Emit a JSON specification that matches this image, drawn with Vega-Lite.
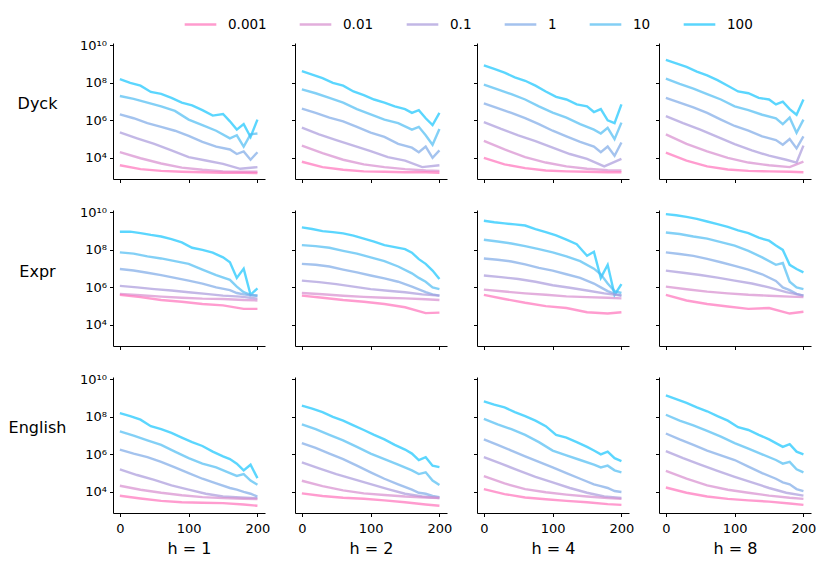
{
  "$schema": "https://vega.github.io/schema/vega-lite/v6.json",
  "background": "white",
  "padding": {"left": 8, "top": 7, "right": 5, "bottom": 5},
  "data": {"values": [
    {"p":"Dyck","h":1,"s":100,"x":0,"y":1.6e8},{"p":"Dyck","h":1,"s":100,"x":15,"y":1.0e8},{"p":"Dyck","h":1,"s":100,"x":30,"y":7.1e7},{"p":"Dyck","h":1,"s":100,"x":45,"y":3.3e7},{"p":"Dyck","h":1,"s":100,"x":60,"y":2.6e7},{"p":"Dyck","h":1,"s":100,"x":75,"y":1.6e7},{"p":"Dyck","h":1,"s":100,"x":90,"y":8.9e6},{"p":"Dyck","h":1,"s":100,"x":105,"y":6.3e6},{"p":"Dyck","h":1,"s":100,"x":120,"y":3.5e6},{"p":"Dyck","h":1,"s":100,"x":135,"y":1.8e6},{"p":"Dyck","h":1,"s":100,"x":150,"y":2.2e6},{"p":"Dyck","h":1,"s":100,"x":160,"y":8.9e5},{"p":"Dyck","h":1,"s":100,"x":170,"y":3.2e5},{"p":"Dyck","h":1,"s":100,"x":180,"y":6.3e5},{"p":"Dyck","h":1,"s":100,"x":190,"y":1.3e5},{"p":"Dyck","h":1,"s":100,"x":200,"y":1.1e6},
    {"p":"Dyck","h":1,"s":10,"x":0,"y":2.0e7},{"p":"Dyck","h":1,"s":10,"x":20,"y":1.4e7},{"p":"Dyck","h":1,"s":10,"x":40,"y":8.9e6},{"p":"Dyck","h":1,"s":10,"x":60,"y":5.6e6},{"p":"Dyck","h":1,"s":10,"x":80,"y":3.2e6},{"p":"Dyck","h":1,"s":10,"x":100,"y":1.1e6},{"p":"Dyck","h":1,"s":10,"x":120,"y":5.6e5},{"p":"Dyck","h":1,"s":10,"x":140,"y":2.8e5},{"p":"Dyck","h":1,"s":10,"x":160,"y":1.1e5},{"p":"Dyck","h":1,"s":10,"x":170,"y":1.6e5},{"p":"Dyck","h":1,"s":10,"x":180,"y":4.0e4},{"p":"Dyck","h":1,"s":10,"x":190,"y":1.8e5},{"p":"Dyck","h":1,"s":10,"x":200,"y":2.0e5},
    {"p":"Dyck","h":1,"s":1,"x":0,"y":2.1e6},{"p":"Dyck","h":1,"s":1,"x":20,"y":1.3e6},{"p":"Dyck","h":1,"s":1,"x":40,"y":7.1e5},{"p":"Dyck","h":1,"s":1,"x":60,"y":4.5e5},{"p":"Dyck","h":1,"s":1,"x":80,"y":2.8e5},{"p":"Dyck","h":1,"s":1,"x":100,"y":1.5e5},{"p":"Dyck","h":1,"s":1,"x":120,"y":7.1e4},{"p":"Dyck","h":1,"s":1,"x":140,"y":4.0e4},{"p":"Dyck","h":1,"s":1,"x":160,"y":2.8e4},{"p":"Dyck","h":1,"s":1,"x":170,"y":1.6e4},{"p":"Dyck","h":1,"s":1,"x":180,"y":2.2e4},{"p":"Dyck","h":1,"s":1,"x":190,"y":7.9e3},{"p":"Dyck","h":1,"s":1,"x":200,"y":2.0e4},
    {"p":"Dyck","h":1,"s":0.1,"x":0,"y":2.3e5},{"p":"Dyck","h":1,"s":0.1,"x":25,"y":1.1e5},{"p":"Dyck","h":1,"s":0.1,"x":50,"y":5.5e4},{"p":"Dyck","h":1,"s":0.1,"x":75,"y":2.5e4},{"p":"Dyck","h":1,"s":0.1,"x":100,"y":1.1e4},{"p":"Dyck","h":1,"s":0.1,"x":125,"y":7.2e3},{"p":"Dyck","h":1,"s":0.1,"x":150,"y":4.8e3},{"p":"Dyck","h":1,"s":0.1,"x":175,"y":2.6e3},{"p":"Dyck","h":1,"s":0.1,"x":200,"y":3.2e3},
    {"p":"Dyck","h":1,"s":0.01,"x":0,"y":2.0e4},{"p":"Dyck","h":1,"s":0.01,"x":30,"y":9.5e3},{"p":"Dyck","h":1,"s":0.01,"x":60,"y":5.0e3},{"p":"Dyck","h":1,"s":0.01,"x":90,"y":3.0e3},{"p":"Dyck","h":1,"s":0.01,"x":120,"y":2.3e3},{"p":"Dyck","h":1,"s":0.01,"x":150,"y":1.9e3},{"p":"Dyck","h":1,"s":0.01,"x":180,"y":1.8e3},{"p":"Dyck","h":1,"s":0.01,"x":200,"y":1.8e3},
    {"p":"Dyck","h":1,"s":0.001,"x":0,"y":4.0e3},{"p":"Dyck","h":1,"s":0.001,"x":30,"y":2.5e3},{"p":"Dyck","h":1,"s":0.001,"x":60,"y":2.0e3},{"p":"Dyck","h":1,"s":0.001,"x":90,"y":1.8e3},{"p":"Dyck","h":1,"s":0.001,"x":120,"y":1.7e3},{"p":"Dyck","h":1,"s":0.001,"x":150,"y":1.6e3},{"p":"Dyck","h":1,"s":0.001,"x":180,"y":1.6e3},{"p":"Dyck","h":1,"s":0.001,"x":200,"y":1.55e3},

    {"p":"Dyck","h":2,"s":100,"x":0,"y":4.2e8},{"p":"Dyck","h":2,"s":100,"x":15,"y":2.8e8},{"p":"Dyck","h":2,"s":100,"x":30,"y":1.8e8},{"p":"Dyck","h":2,"s":100,"x":45,"y":1.0e8},{"p":"Dyck","h":2,"s":100,"x":60,"y":7.1e7},{"p":"Dyck","h":2,"s":100,"x":75,"y":3.5e7},{"p":"Dyck","h":2,"s":100,"x":90,"y":2.2e7},{"p":"Dyck","h":2,"s":100,"x":105,"y":1.3e7},{"p":"Dyck","h":2,"s":100,"x":120,"y":8.9e6},{"p":"Dyck","h":2,"s":100,"x":135,"y":5.6e6},{"p":"Dyck","h":2,"s":100,"x":150,"y":4.0e6},{"p":"Dyck","h":2,"s":100,"x":160,"y":2.5e6},{"p":"Dyck","h":2,"s":100,"x":170,"y":3.5e6},{"p":"Dyck","h":2,"s":100,"x":180,"y":1.3e6},{"p":"Dyck","h":2,"s":100,"x":190,"y":5.6e5},{"p":"Dyck","h":2,"s":100,"x":200,"y":2.5e6},
    {"p":"Dyck","h":2,"s":10,"x":0,"y":4.5e7},{"p":"Dyck","h":2,"s":10,"x":20,"y":2.8e7},{"p":"Dyck","h":2,"s":10,"x":40,"y":1.6e7},{"p":"Dyck","h":2,"s":10,"x":60,"y":8.9e6},{"p":"Dyck","h":2,"s":10,"x":80,"y":4.0e6},{"p":"Dyck","h":2,"s":10,"x":100,"y":2.1e6},{"p":"Dyck","h":2,"s":10,"x":120,"y":1.1e6},{"p":"Dyck","h":2,"s":10,"x":140,"y":7.1e5},{"p":"Dyck","h":2,"s":10,"x":160,"y":3.2e5},{"p":"Dyck","h":2,"s":10,"x":170,"y":4.5e5},{"p":"Dyck","h":2,"s":10,"x":180,"y":1.6e5},{"p":"Dyck","h":2,"s":10,"x":190,"y":5.0e4},{"p":"Dyck","h":2,"s":10,"x":200,"y":3.5e5},
    {"p":"Dyck","h":2,"s":1,"x":0,"y":4.2e6},{"p":"Dyck","h":2,"s":1,"x":20,"y":2.5e6},{"p":"Dyck","h":2,"s":1,"x":40,"y":1.4e6},{"p":"Dyck","h":2,"s":1,"x":60,"y":8.9e5},{"p":"Dyck","h":2,"s":1,"x":80,"y":4.5e5},{"p":"Dyck","h":2,"s":1,"x":100,"y":2.2e5},{"p":"Dyck","h":2,"s":1,"x":120,"y":1.3e5},{"p":"Dyck","h":2,"s":1,"x":140,"y":5.6e4},{"p":"Dyck","h":2,"s":1,"x":160,"y":3.5e4},{"p":"Dyck","h":2,"s":1,"x":170,"y":2.0e4},{"p":"Dyck","h":2,"s":1,"x":180,"y":4.0e4},{"p":"Dyck","h":2,"s":1,"x":190,"y":1.0e4},{"p":"Dyck","h":2,"s":1,"x":200,"y":2.5e4},
    {"p":"Dyck","h":2,"s":0.1,"x":0,"y":4.1e5},{"p":"Dyck","h":2,"s":0.1,"x":25,"y":1.8e5},{"p":"Dyck","h":2,"s":0.1,"x":50,"y":8.9e4},{"p":"Dyck","h":2,"s":0.1,"x":75,"y":4.5e4},{"p":"Dyck","h":2,"s":0.1,"x":100,"y":2.3e4},{"p":"Dyck","h":2,"s":0.1,"x":125,"y":1.1e4},{"p":"Dyck","h":2,"s":0.1,"x":150,"y":7.1e3},{"p":"Dyck","h":2,"s":0.1,"x":175,"y":3.2e3},{"p":"Dyck","h":2,"s":0.1,"x":200,"y":4.0e3},
    {"p":"Dyck","h":2,"s":0.01,"x":0,"y":4.5e4},{"p":"Dyck","h":2,"s":0.01,"x":30,"y":1.8e4},{"p":"Dyck","h":2,"s":0.01,"x":60,"y":7.9e3},{"p":"Dyck","h":2,"s":0.01,"x":90,"y":4.5e3},{"p":"Dyck","h":2,"s":0.01,"x":120,"y":3.2e3},{"p":"Dyck","h":2,"s":0.01,"x":150,"y":2.5e3},{"p":"Dyck","h":2,"s":0.01,"x":180,"y":2.1e3},{"p":"Dyck","h":2,"s":0.01,"x":200,"y":2.0e3},
    {"p":"Dyck","h":2,"s":0.001,"x":0,"y":6.2e3},{"p":"Dyck","h":2,"s":0.001,"x":30,"y":3.2e3},{"p":"Dyck","h":2,"s":0.001,"x":60,"y":2.3e3},{"p":"Dyck","h":2,"s":0.001,"x":90,"y":1.9e3},{"p":"Dyck","h":2,"s":0.001,"x":120,"y":1.8e3},{"p":"Dyck","h":2,"s":0.001,"x":150,"y":1.7e3},{"p":"Dyck","h":2,"s":0.001,"x":180,"y":1.7e3},{"p":"Dyck","h":2,"s":0.001,"x":200,"y":1.6e3},

    {"p":"Dyck","h":4,"s":100,"x":0,"y":8.7e8},{"p":"Dyck","h":4,"s":100,"x":15,"y":5.6e8},{"p":"Dyck","h":4,"s":100,"x":30,"y":3.5e8},{"p":"Dyck","h":4,"s":100,"x":45,"y":2.0e8},{"p":"Dyck","h":4,"s":100,"x":60,"y":1.3e8},{"p":"Dyck","h":4,"s":100,"x":75,"y":7.1e7},{"p":"Dyck","h":4,"s":100,"x":90,"y":3.5e7},{"p":"Dyck","h":4,"s":100,"x":105,"y":1.8e7},{"p":"Dyck","h":4,"s":100,"x":120,"y":1.3e7},{"p":"Dyck","h":4,"s":100,"x":135,"y":7.1e6},{"p":"Dyck","h":4,"s":100,"x":150,"y":5.6e6},{"p":"Dyck","h":4,"s":100,"x":160,"y":2.8e6},{"p":"Dyck","h":4,"s":100,"x":170,"y":4.0e6},{"p":"Dyck","h":4,"s":100,"x":180,"y":1.0e6},{"p":"Dyck","h":4,"s":100,"x":190,"y":7.1e5},{"p":"Dyck","h":4,"s":100,"x":200,"y":7.1e6},
    {"p":"Dyck","h":4,"s":10,"x":0,"y":8.1e7},{"p":"Dyck","h":4,"s":10,"x":20,"y":4.5e7},{"p":"Dyck","h":4,"s":10,"x":40,"y":2.5e7},{"p":"Dyck","h":4,"s":10,"x":60,"y":1.3e7},{"p":"Dyck","h":4,"s":10,"x":80,"y":5.6e6},{"p":"Dyck","h":4,"s":10,"x":100,"y":2.6e6},{"p":"Dyck","h":4,"s":10,"x":120,"y":1.4e6},{"p":"Dyck","h":4,"s":10,"x":140,"y":6.3e5},{"p":"Dyck","h":4,"s":10,"x":160,"y":3.2e5},{"p":"Dyck","h":4,"s":10,"x":170,"y":2.0e5},{"p":"Dyck","h":4,"s":10,"x":180,"y":4.0e5},{"p":"Dyck","h":4,"s":10,"x":190,"y":1.0e5},{"p":"Dyck","h":4,"s":10,"x":200,"y":7.6e5},
    {"p":"Dyck","h":4,"s":1,"x":0,"y":8.1e6},{"p":"Dyck","h":4,"s":1,"x":20,"y":4.5e6},{"p":"Dyck","h":4,"s":1,"x":40,"y":2.5e6},{"p":"Dyck","h":4,"s":1,"x":60,"y":1.3e6},{"p":"Dyck","h":4,"s":1,"x":80,"y":6.3e5},{"p":"Dyck","h":4,"s":1,"x":100,"y":2.8e5},{"p":"Dyck","h":4,"s":1,"x":120,"y":1.4e5},{"p":"Dyck","h":4,"s":1,"x":140,"y":7.1e4},{"p":"Dyck","h":4,"s":1,"x":160,"y":4.0e4},{"p":"Dyck","h":4,"s":1,"x":170,"y":2.0e4},{"p":"Dyck","h":4,"s":1,"x":180,"y":4.0e4},{"p":"Dyck","h":4,"s":1,"x":190,"y":1.3e4},{"p":"Dyck","h":4,"s":1,"x":200,"y":6.6e4},
    {"p":"Dyck","h":4,"s":0.1,"x":0,"y":8.1e5},{"p":"Dyck","h":4,"s":0.1,"x":25,"y":3.5e5},{"p":"Dyck","h":4,"s":0.1,"x":50,"y":1.6e5},{"p":"Dyck","h":4,"s":0.1,"x":75,"y":7.9e4},{"p":"Dyck","h":4,"s":0.1,"x":100,"y":3.5e4},{"p":"Dyck","h":4,"s":0.1,"x":125,"y":1.6e4},{"p":"Dyck","h":4,"s":0.1,"x":150,"y":8.9e3},{"p":"Dyck","h":4,"s":0.1,"x":175,"y":3.5e3},{"p":"Dyck","h":4,"s":0.1,"x":200,"y":8.9e3},
    {"p":"Dyck","h":4,"s":0.01,"x":0,"y":8.1e4},{"p":"Dyck","h":4,"s":0.01,"x":30,"y":2.8e4},{"p":"Dyck","h":4,"s":0.01,"x":60,"y":1.1e4},{"p":"Dyck","h":4,"s":0.01,"x":90,"y":5.6e3},{"p":"Dyck","h":4,"s":0.01,"x":120,"y":3.5e3},{"p":"Dyck","h":4,"s":0.01,"x":150,"y":2.6e3},{"p":"Dyck","h":4,"s":0.01,"x":180,"y":2.2e3},{"p":"Dyck","h":4,"s":0.01,"x":200,"y":2.1e3},
    {"p":"Dyck","h":4,"s":0.001,"x":0,"y":1.0e4},{"p":"Dyck","h":4,"s":0.001,"x":30,"y":4.5e3},{"p":"Dyck","h":4,"s":0.001,"x":60,"y":2.8e3},{"p":"Dyck","h":4,"s":0.001,"x":90,"y":2.1e3},{"p":"Dyck","h":4,"s":0.001,"x":120,"y":1.9e3},{"p":"Dyck","h":4,"s":0.001,"x":150,"y":1.8e3},{"p":"Dyck","h":4,"s":0.001,"x":180,"y":1.7e3},{"p":"Dyck","h":4,"s":0.001,"x":200,"y":1.7e3},

    {"p":"Dyck","h":8,"s":100,"x":0,"y":1.7e9},{"p":"Dyck","h":8,"s":100,"x":15,"y":1.1e9},{"p":"Dyck","h":8,"s":100,"x":30,"y":7.1e8},{"p":"Dyck","h":8,"s":100,"x":45,"y":4.0e8},{"p":"Dyck","h":8,"s":100,"x":60,"y":2.5e8},{"p":"Dyck","h":8,"s":100,"x":75,"y":1.4e8},{"p":"Dyck","h":8,"s":100,"x":90,"y":7.1e7},{"p":"Dyck","h":8,"s":100,"x":105,"y":3.5e7},{"p":"Dyck","h":8,"s":100,"x":120,"y":2.8e7},{"p":"Dyck","h":8,"s":100,"x":135,"y":1.6e7},{"p":"Dyck","h":8,"s":100,"x":150,"y":1.3e7},{"p":"Dyck","h":8,"s":100,"x":160,"y":7.1e6},{"p":"Dyck","h":8,"s":100,"x":170,"y":1.0e7},{"p":"Dyck","h":8,"s":100,"x":180,"y":4.0e6},{"p":"Dyck","h":8,"s":100,"x":190,"y":2.0e6},{"p":"Dyck","h":8,"s":100,"x":200,"y":1.3e7},
    {"p":"Dyck","h":8,"s":10,"x":0,"y":1.7e8},{"p":"Dyck","h":8,"s":10,"x":20,"y":8.9e7},{"p":"Dyck","h":8,"s":10,"x":40,"y":5.0e7},{"p":"Dyck","h":8,"s":10,"x":60,"y":2.5e7},{"p":"Dyck","h":8,"s":10,"x":80,"y":1.3e7},{"p":"Dyck","h":8,"s":10,"x":100,"y":5.6e6},{"p":"Dyck","h":8,"s":10,"x":120,"y":3.5e6},{"p":"Dyck","h":8,"s":10,"x":140,"y":2.0e6},{"p":"Dyck","h":8,"s":10,"x":160,"y":1.3e6},{"p":"Dyck","h":8,"s":10,"x":170,"y":6.3e5},{"p":"Dyck","h":8,"s":10,"x":180,"y":1.4e6},{"p":"Dyck","h":8,"s":10,"x":190,"y":2.2e5},{"p":"Dyck","h":8,"s":10,"x":200,"y":1.1e6},
    {"p":"Dyck","h":8,"s":1,"x":0,"y":1.6e7},{"p":"Dyck","h":8,"s":1,"x":20,"y":8.9e6},{"p":"Dyck","h":8,"s":1,"x":40,"y":5.0e6},{"p":"Dyck","h":8,"s":1,"x":60,"y":2.5e6},{"p":"Dyck","h":8,"s":1,"x":80,"y":1.1e6},{"p":"Dyck","h":8,"s":1,"x":100,"y":5.0e5},{"p":"Dyck","h":8,"s":1,"x":120,"y":2.8e5},{"p":"Dyck","h":8,"s":1,"x":140,"y":1.4e5},{"p":"Dyck","h":8,"s":1,"x":160,"y":8.9e4},{"p":"Dyck","h":8,"s":1,"x":170,"y":5.0e4},{"p":"Dyck","h":8,"s":1,"x":180,"y":1.0e5},{"p":"Dyck","h":8,"s":1,"x":190,"y":3.2e4},{"p":"Dyck","h":8,"s":1,"x":200,"y":1.4e5},
    {"p":"Dyck","h":8,"s":0.1,"x":0,"y":1.7e6},{"p":"Dyck","h":8,"s":0.1,"x":25,"y":7.1e5},{"p":"Dyck","h":8,"s":0.1,"x":50,"y":3.2e5},{"p":"Dyck","h":8,"s":0.1,"x":75,"y":1.3e5},{"p":"Dyck","h":8,"s":0.1,"x":100,"y":5.4e4},{"p":"Dyck","h":8,"s":0.1,"x":125,"y":2.5e4},{"p":"Dyck","h":8,"s":0.1,"x":150,"y":1.3e4},{"p":"Dyck","h":8,"s":0.1,"x":175,"y":7.9e3},{"p":"Dyck","h":8,"s":0.1,"x":190,"y":5.6e3},{"p":"Dyck","h":8,"s":0.1,"x":200,"y":4.5e4},
    {"p":"Dyck","h":8,"s":0.01,"x":0,"y":1.8e5},{"p":"Dyck","h":8,"s":0.01,"x":30,"y":5.6e4},{"p":"Dyck","h":8,"s":0.01,"x":60,"y":2.2e4},{"p":"Dyck","h":8,"s":0.01,"x":90,"y":1.0e4},{"p":"Dyck","h":8,"s":0.01,"x":120,"y":5.6e3},{"p":"Dyck","h":8,"s":0.01,"x":150,"y":4.0e3},{"p":"Dyck","h":8,"s":0.01,"x":180,"y":3.2e3},{"p":"Dyck","h":8,"s":0.01,"x":200,"y":6.3e3},
    {"p":"Dyck","h":8,"s":0.001,"x":0,"y":1.9e4},{"p":"Dyck","h":8,"s":0.001,"x":30,"y":7.1e3},{"p":"Dyck","h":8,"s":0.001,"x":60,"y":3.5e3},{"p":"Dyck","h":8,"s":0.001,"x":90,"y":2.4e3},{"p":"Dyck","h":8,"s":0.001,"x":120,"y":2.0e3},{"p":"Dyck","h":8,"s":0.001,"x":150,"y":1.9e3},{"p":"Dyck","h":8,"s":0.001,"x":180,"y":1.8e3},{"p":"Dyck","h":8,"s":0.001,"x":200,"y":1.7e3},

    {"p":"Expr","h":1,"s":100,"x":0,"y":9.3e8},{"p":"Expr","h":1,"s":100,"x":15,"y":9.5e8},{"p":"Expr","h":1,"s":100,"x":30,"y":7.9e8},{"p":"Expr","h":1,"s":100,"x":45,"y":6.3e8},{"p":"Expr","h":1,"s":100,"x":60,"y":5.2e8},{"p":"Expr","h":1,"s":100,"x":75,"y":3.8e8},{"p":"Expr","h":1,"s":100,"x":90,"y":2.5e8},{"p":"Expr","h":1,"s":100,"x":105,"y":1.3e8},{"p":"Expr","h":1,"s":100,"x":120,"y":1.0e8},{"p":"Expr","h":1,"s":100,"x":135,"y":7.1e7},{"p":"Expr","h":1,"s":100,"x":150,"y":4.0e7},{"p":"Expr","h":1,"s":100,"x":160,"y":2.2e7},{"p":"Expr","h":1,"s":100,"x":170,"y":3.2e6},{"p":"Expr","h":1,"s":100,"x":180,"y":1.0e7},{"p":"Expr","h":1,"s":100,"x":190,"y":4.0e5},{"p":"Expr","h":1,"s":100,"x":200,"y":8.9e5},
    {"p":"Expr","h":1,"s":10,"x":0,"y":7.4e7},{"p":"Expr","h":1,"s":10,"x":20,"y":6.3e7},{"p":"Expr","h":1,"s":10,"x":40,"y":4.5e7},{"p":"Expr","h":1,"s":10,"x":60,"y":3.5e7},{"p":"Expr","h":1,"s":10,"x":80,"y":2.5e7},{"p":"Expr","h":1,"s":10,"x":100,"y":1.8e7},{"p":"Expr","h":1,"s":10,"x":120,"y":8.9e6},{"p":"Expr","h":1,"s":10,"x":140,"y":4.5e6},{"p":"Expr","h":1,"s":10,"x":160,"y":2.5e6},{"p":"Expr","h":1,"s":10,"x":170,"y":1.1e6},{"p":"Expr","h":1,"s":10,"x":180,"y":5.6e5},{"p":"Expr","h":1,"s":10,"x":190,"y":4.0e5},{"p":"Expr","h":1,"s":10,"x":200,"y":3.6e5},
    {"p":"Expr","h":1,"s":1,"x":0,"y":9.5e6},{"p":"Expr","h":1,"s":1,"x":20,"y":7.9e6},{"p":"Expr","h":1,"s":1,"x":40,"y":6.0e6},{"p":"Expr","h":1,"s":1,"x":60,"y":4.5e6},{"p":"Expr","h":1,"s":1,"x":80,"y":3.2e6},{"p":"Expr","h":1,"s":1,"x":100,"y":2.3e6},{"p":"Expr","h":1,"s":1,"x":120,"y":1.6e6},{"p":"Expr","h":1,"s":1,"x":140,"y":1.0e6},{"p":"Expr","h":1,"s":1,"x":160,"y":7.1e5},{"p":"Expr","h":1,"s":1,"x":170,"y":5.0e5},{"p":"Expr","h":1,"s":1,"x":180,"y":4.2e5},{"p":"Expr","h":1,"s":1,"x":190,"y":3.8e5},{"p":"Expr","h":1,"s":1,"x":200,"y":3.6e5},
    {"p":"Expr","h":1,"s":0.1,"x":0,"y":1.2e6},{"p":"Expr","h":1,"s":0.1,"x":25,"y":1.0e6},{"p":"Expr","h":1,"s":0.1,"x":50,"y":8.1e5},{"p":"Expr","h":1,"s":0.1,"x":75,"y":6.8e5},{"p":"Expr","h":1,"s":0.1,"x":100,"y":5.5e5},{"p":"Expr","h":1,"s":0.1,"x":125,"y":4.5e5},{"p":"Expr","h":1,"s":0.1,"x":150,"y":3.6e5},{"p":"Expr","h":1,"s":0.1,"x":175,"y":3.2e5},{"p":"Expr","h":1,"s":0.1,"x":200,"y":2.5e5},
    {"p":"Expr","h":1,"s":0.01,"x":0,"y":4.5e5},{"p":"Expr","h":1,"s":0.01,"x":30,"y":3.8e5},{"p":"Expr","h":1,"s":0.01,"x":60,"y":3.2e5},{"p":"Expr","h":1,"s":0.01,"x":90,"y":2.8e5},{"p":"Expr","h":1,"s":0.01,"x":120,"y":2.5e5},{"p":"Expr","h":1,"s":0.01,"x":150,"y":2.4e5},{"p":"Expr","h":1,"s":0.01,"x":180,"y":2.1e5},{"p":"Expr","h":1,"s":0.01,"x":200,"y":2.0e5},
    {"p":"Expr","h":1,"s":0.001,"x":0,"y":4.0e5},{"p":"Expr","h":1,"s":0.001,"x":30,"y":3.0e5},{"p":"Expr","h":1,"s":0.001,"x":60,"y":2.1e5},{"p":"Expr","h":1,"s":0.001,"x":90,"y":1.7e5},{"p":"Expr","h":1,"s":0.001,"x":120,"y":1.3e5},{"p":"Expr","h":1,"s":0.001,"x":150,"y":1.1e5},{"p":"Expr","h":1,"s":0.001,"x":180,"y":7.1e4},{"p":"Expr","h":1,"s":0.001,"x":200,"y":7.1e4},

    {"p":"Expr","h":2,"s":100,"x":0,"y":1.6e9},{"p":"Expr","h":2,"s":100,"x":15,"y":1.3e9},{"p":"Expr","h":2,"s":100,"x":30,"y":1.0e9},{"p":"Expr","h":2,"s":100,"x":45,"y":8.9e8},{"p":"Expr","h":2,"s":100,"x":60,"y":7.6e8},{"p":"Expr","h":2,"s":100,"x":75,"y":5.8e8},{"p":"Expr","h":2,"s":100,"x":90,"y":4.0e8},{"p":"Expr","h":2,"s":100,"x":105,"y":2.8e8},{"p":"Expr","h":2,"s":100,"x":120,"y":1.8e8},{"p":"Expr","h":2,"s":100,"x":135,"y":1.4e8},{"p":"Expr","h":2,"s":100,"x":150,"y":1.1e8},{"p":"Expr","h":2,"s":100,"x":160,"y":7.1e7},{"p":"Expr","h":2,"s":100,"x":170,"y":3.2e7},{"p":"Expr","h":2,"s":100,"x":180,"y":1.8e7},{"p":"Expr","h":2,"s":100,"x":190,"y":7.9e6},{"p":"Expr","h":2,"s":100,"x":200,"y":2.8e6},
    {"p":"Expr","h":2,"s":10,"x":0,"y":1.8e8},{"p":"Expr","h":2,"s":10,"x":20,"y":1.6e8},{"p":"Expr","h":2,"s":10,"x":40,"y":1.3e8},{"p":"Expr","h":2,"s":10,"x":60,"y":8.9e7},{"p":"Expr","h":2,"s":10,"x":80,"y":6.3e7},{"p":"Expr","h":2,"s":10,"x":100,"y":4.0e7},{"p":"Expr","h":2,"s":10,"x":120,"y":2.5e7},{"p":"Expr","h":2,"s":10,"x":140,"y":1.3e7},{"p":"Expr","h":2,"s":10,"x":160,"y":5.6e6},{"p":"Expr","h":2,"s":10,"x":170,"y":3.2e6},{"p":"Expr","h":2,"s":10,"x":180,"y":2.0e6},{"p":"Expr","h":2,"s":10,"x":190,"y":1.0e6},{"p":"Expr","h":2,"s":10,"x":200,"y":8.1e5},
    {"p":"Expr","h":2,"s":1,"x":0,"y":1.8e7},{"p":"Expr","h":2,"s":1,"x":20,"y":1.6e7},{"p":"Expr","h":2,"s":1,"x":40,"y":1.3e7},{"p":"Expr","h":2,"s":1,"x":60,"y":8.9e6},{"p":"Expr","h":2,"s":1,"x":80,"y":6.3e6},{"p":"Expr","h":2,"s":1,"x":100,"y":4.3e6},{"p":"Expr","h":2,"s":1,"x":120,"y":3.0e6},{"p":"Expr","h":2,"s":1,"x":140,"y":2.0e6},{"p":"Expr","h":2,"s":1,"x":160,"y":1.1e6},{"p":"Expr","h":2,"s":1,"x":170,"y":7.9e5},{"p":"Expr","h":2,"s":1,"x":180,"y":5.6e5},{"p":"Expr","h":2,"s":1,"x":190,"y":4.2e5},{"p":"Expr","h":2,"s":1,"x":200,"y":3.6e5},
    {"p":"Expr","h":2,"s":0.1,"x":0,"y":2.3e6},{"p":"Expr","h":2,"s":0.1,"x":25,"y":1.9e6},{"p":"Expr","h":2,"s":0.1,"x":50,"y":1.5e6},{"p":"Expr","h":2,"s":0.1,"x":75,"y":1.1e6},{"p":"Expr","h":2,"s":0.1,"x":100,"y":8.1e5},{"p":"Expr","h":2,"s":0.1,"x":125,"y":6.6e5},{"p":"Expr","h":2,"s":0.1,"x":150,"y":5.5e5},{"p":"Expr","h":2,"s":0.1,"x":175,"y":4.2e5},{"p":"Expr","h":2,"s":0.1,"x":200,"y":3.6e5},
    {"p":"Expr","h":2,"s":0.01,"x":0,"y":5.0e5},{"p":"Expr","h":2,"s":0.01,"x":30,"y":4.3e5},{"p":"Expr","h":2,"s":0.01,"x":60,"y":3.6e5},{"p":"Expr","h":2,"s":0.01,"x":90,"y":3.1e5},{"p":"Expr","h":2,"s":0.01,"x":120,"y":2.8e5},{"p":"Expr","h":2,"s":0.01,"x":150,"y":2.6e5},{"p":"Expr","h":2,"s":0.01,"x":180,"y":2.3e5},{"p":"Expr","h":2,"s":0.01,"x":200,"y":2.1e5},
    {"p":"Expr","h":2,"s":0.001,"x":0,"y":3.6e5},{"p":"Expr","h":2,"s":0.001,"x":30,"y":2.8e5},{"p":"Expr","h":2,"s":0.001,"x":60,"y":2.1e5},{"p":"Expr","h":2,"s":0.001,"x":90,"y":1.7e5},{"p":"Expr","h":2,"s":0.001,"x":120,"y":1.3e5},{"p":"Expr","h":2,"s":0.001,"x":150,"y":8.7e4},{"p":"Expr","h":2,"s":0.001,"x":180,"y":4.2e4},{"p":"Expr","h":2,"s":0.001,"x":200,"y":4.5e4},

    {"p":"Expr","h":4,"s":100,"x":0,"y":3.6e9},{"p":"Expr","h":4,"s":100,"x":15,"y":3.0e9},{"p":"Expr","h":4,"s":100,"x":30,"y":2.6e9},{"p":"Expr","h":4,"s":100,"x":45,"y":2.3e9},{"p":"Expr","h":4,"s":100,"x":60,"y":2.0e9},{"p":"Expr","h":4,"s":100,"x":75,"y":1.3e9},{"p":"Expr","h":4,"s":100,"x":90,"y":8.9e8},{"p":"Expr","h":4,"s":100,"x":105,"y":6.0e8},{"p":"Expr","h":4,"s":100,"x":120,"y":3.5e8},{"p":"Expr","h":4,"s":100,"x":135,"y":2.0e8},{"p":"Expr","h":4,"s":100,"x":150,"y":4.9e7},{"p":"Expr","h":4,"s":100,"x":160,"y":7.9e7},{"p":"Expr","h":4,"s":100,"x":170,"y":3.2e6},{"p":"Expr","h":4,"s":100,"x":180,"y":1.6e7},{"p":"Expr","h":4,"s":100,"x":190,"y":4.0e5},{"p":"Expr","h":4,"s":100,"x":200,"y":1.5e6},
    {"p":"Expr","h":4,"s":10,"x":0,"y":3.5e8},{"p":"Expr","h":4,"s":10,"x":20,"y":2.8e8},{"p":"Expr","h":4,"s":10,"x":40,"y":2.2e8},{"p":"Expr","h":4,"s":10,"x":60,"y":1.6e8},{"p":"Expr","h":4,"s":10,"x":80,"y":1.1e8},{"p":"Expr","h":4,"s":10,"x":100,"y":7.4e7},{"p":"Expr","h":4,"s":10,"x":120,"y":4.5e7},{"p":"Expr","h":4,"s":10,"x":140,"y":2.5e7},{"p":"Expr","h":4,"s":10,"x":160,"y":1.0e7},{"p":"Expr","h":4,"s":10,"x":170,"y":5.0e6},{"p":"Expr","h":4,"s":10,"x":180,"y":1.6e6},{"p":"Expr","h":4,"s":10,"x":190,"y":6.3e5},{"p":"Expr","h":4,"s":10,"x":200,"y":5.0e5},
    {"p":"Expr","h":4,"s":1,"x":0,"y":3.5e7},{"p":"Expr","h":4,"s":1,"x":20,"y":3.0e7},{"p":"Expr","h":4,"s":1,"x":40,"y":2.4e7},{"p":"Expr","h":4,"s":1,"x":60,"y":1.7e7},{"p":"Expr","h":4,"s":1,"x":80,"y":1.1e7},{"p":"Expr","h":4,"s":1,"x":100,"y":7.8e6},{"p":"Expr","h":4,"s":1,"x":120,"y":5.0e6},{"p":"Expr","h":4,"s":1,"x":140,"y":3.2e6},{"p":"Expr","h":4,"s":1,"x":160,"y":1.6e6},{"p":"Expr","h":4,"s":1,"x":170,"y":1.0e6},{"p":"Expr","h":4,"s":1,"x":180,"y":6.3e5},{"p":"Expr","h":4,"s":1,"x":190,"y":4.5e5},{"p":"Expr","h":4,"s":1,"x":200,"y":3.6e5},
    {"p":"Expr","h":4,"s":0.1,"x":0,"y":4.3e6},{"p":"Expr","h":4,"s":0.1,"x":25,"y":3.5e6},{"p":"Expr","h":4,"s":0.1,"x":50,"y":2.8e6},{"p":"Expr","h":4,"s":0.1,"x":75,"y":2.0e6},{"p":"Expr","h":4,"s":0.1,"x":100,"y":1.3e6},{"p":"Expr","h":4,"s":0.1,"x":125,"y":9.5e5},{"p":"Expr","h":4,"s":0.1,"x":150,"y":6.8e5},{"p":"Expr","h":4,"s":0.1,"x":175,"y":4.8e5},{"p":"Expr","h":4,"s":0.1,"x":200,"y":3.6e5},
    {"p":"Expr","h":4,"s":0.01,"x":0,"y":7.6e5},{"p":"Expr","h":4,"s":0.01,"x":30,"y":6.0e5},{"p":"Expr","h":4,"s":0.01,"x":60,"y":4.8e5},{"p":"Expr","h":4,"s":0.01,"x":90,"y":4.0e5},{"p":"Expr","h":4,"s":0.01,"x":120,"y":3.3e5},{"p":"Expr","h":4,"s":0.01,"x":150,"y":3.0e5},{"p":"Expr","h":4,"s":0.01,"x":180,"y":2.8e5},{"p":"Expr","h":4,"s":0.01,"x":200,"y":2.6e5},
    {"p":"Expr","h":4,"s":0.001,"x":0,"y":4.0e5},{"p":"Expr","h":4,"s":0.001,"x":30,"y":2.4e5},{"p":"Expr","h":4,"s":0.001,"x":60,"y":1.5e5},{"p":"Expr","h":4,"s":0.001,"x":90,"y":1.0e5},{"p":"Expr","h":4,"s":0.001,"x":120,"y":7.9e4},{"p":"Expr","h":4,"s":0.001,"x":150,"y":4.7e4},{"p":"Expr","h":4,"s":0.001,"x":180,"y":4.0e4},{"p":"Expr","h":4,"s":0.001,"x":200,"y":4.7e4},

    {"p":"Expr","h":8,"s":100,"x":0,"y":8.1e9},{"p":"Expr","h":8,"s":100,"x":15,"y":7.1e9},{"p":"Expr","h":8,"s":100,"x":30,"y":5.8e9},{"p":"Expr","h":8,"s":100,"x":45,"y":4.5e9},{"p":"Expr","h":8,"s":100,"x":60,"y":3.3e9},{"p":"Expr","h":8,"s":100,"x":75,"y":2.4e9},{"p":"Expr","h":8,"s":100,"x":90,"y":1.7e9},{"p":"Expr","h":8,"s":100,"x":105,"y":1.1e9},{"p":"Expr","h":8,"s":100,"x":120,"y":7.9e8},{"p":"Expr","h":8,"s":100,"x":135,"y":4.5e8},{"p":"Expr","h":8,"s":100,"x":150,"y":3.1e8},{"p":"Expr","h":8,"s":100,"x":160,"y":1.7e8},{"p":"Expr","h":8,"s":100,"x":170,"y":1.0e8},{"p":"Expr","h":8,"s":100,"x":180,"y":1.6e7},{"p":"Expr","h":8,"s":100,"x":190,"y":9.5e6},{"p":"Expr","h":8,"s":100,"x":200,"y":6.3e6},
    {"p":"Expr","h":8,"s":10,"x":0,"y":8.5e8},{"p":"Expr","h":8,"s":10,"x":20,"y":7.1e8},{"p":"Expr","h":8,"s":10,"x":40,"y":5.2e8},{"p":"Expr","h":8,"s":10,"x":60,"y":4.0e8},{"p":"Expr","h":8,"s":10,"x":80,"y":2.6e8},{"p":"Expr","h":8,"s":10,"x":100,"y":1.7e8},{"p":"Expr","h":8,"s":10,"x":120,"y":8.9e7},{"p":"Expr","h":8,"s":10,"x":140,"y":4.0e7},{"p":"Expr","h":8,"s":10,"x":160,"y":1.6e7},{"p":"Expr","h":8,"s":10,"x":170,"y":2.0e7},{"p":"Expr","h":8,"s":10,"x":180,"y":2.0e6},{"p":"Expr","h":8,"s":10,"x":190,"y":1.0e6},{"p":"Expr","h":8,"s":10,"x":200,"y":8.1e5},
    {"p":"Expr","h":8,"s":1,"x":0,"y":7.4e7},{"p":"Expr","h":8,"s":1,"x":20,"y":6.0e7},{"p":"Expr","h":8,"s":1,"x":40,"y":4.8e7},{"p":"Expr","h":8,"s":1,"x":60,"y":3.3e7},{"p":"Expr","h":8,"s":1,"x":80,"y":2.2e7},{"p":"Expr","h":8,"s":1,"x":100,"y":1.4e7},{"p":"Expr","h":8,"s":1,"x":120,"y":8.9e6},{"p":"Expr","h":8,"s":1,"x":140,"y":5.0e6},{"p":"Expr","h":8,"s":1,"x":160,"y":2.2e6},{"p":"Expr","h":8,"s":1,"x":170,"y":1.0e6},{"p":"Expr","h":8,"s":1,"x":180,"y":7.1e5},{"p":"Expr","h":8,"s":1,"x":190,"y":4.5e5},{"p":"Expr","h":8,"s":1,"x":200,"y":3.6e5},
    {"p":"Expr","h":8,"s":0.1,"x":0,"y":7.8e6},{"p":"Expr","h":8,"s":0.1,"x":25,"y":6.0e6},{"p":"Expr","h":8,"s":0.1,"x":50,"y":4.6e6},{"p":"Expr","h":8,"s":0.1,"x":75,"y":3.3e6},{"p":"Expr","h":8,"s":0.1,"x":100,"y":2.3e6},{"p":"Expr","h":8,"s":0.1,"x":125,"y":1.6e6},{"p":"Expr","h":8,"s":0.1,"x":150,"y":1.0e6},{"p":"Expr","h":8,"s":0.1,"x":175,"y":5.6e5},{"p":"Expr","h":8,"s":0.1,"x":200,"y":3.6e5},
    {"p":"Expr","h":8,"s":0.01,"x":0,"y":1.1e6},{"p":"Expr","h":8,"s":0.01,"x":30,"y":7.9e5},{"p":"Expr","h":8,"s":0.01,"x":60,"y":5.9e5},{"p":"Expr","h":8,"s":0.01,"x":90,"y":4.8e5},{"p":"Expr","h":8,"s":0.01,"x":120,"y":4.0e5},{"p":"Expr","h":8,"s":0.01,"x":150,"y":3.6e5},{"p":"Expr","h":8,"s":0.01,"x":180,"y":3.2e5},{"p":"Expr","h":8,"s":0.01,"x":200,"y":3.0e5},
    {"p":"Expr","h":8,"s":0.001,"x":0,"y":4.0e5},{"p":"Expr","h":8,"s":0.001,"x":30,"y":2.0e5},{"p":"Expr","h":8,"s":0.001,"x":60,"y":1.3e5},{"p":"Expr","h":8,"s":0.001,"x":90,"y":9.5e4},{"p":"Expr","h":8,"s":0.001,"x":120,"y":7.1e4},{"p":"Expr","h":8,"s":0.001,"x":150,"y":7.9e4},{"p":"Expr","h":8,"s":0.001,"x":180,"y":4.0e4},{"p":"Expr","h":8,"s":0.001,"x":200,"y":5.0e4},

    {"p":"English","h":1,"s":100,"x":0,"y":1.6e8},{"p":"English","h":1,"s":100,"x":15,"y":1.1e8},{"p":"English","h":1,"s":100,"x":30,"y":7.1e7},{"p":"English","h":1,"s":100,"x":45,"y":3.2e7},{"p":"English","h":1,"s":100,"x":60,"y":2.2e7},{"p":"English","h":1,"s":100,"x":75,"y":1.4e7},{"p":"English","h":1,"s":100,"x":90,"y":7.9e6},{"p":"English","h":1,"s":100,"x":105,"y":4.5e6},{"p":"English","h":1,"s":100,"x":120,"y":2.8e6},{"p":"English","h":1,"s":100,"x":135,"y":1.4e6},{"p":"English","h":1,"s":100,"x":150,"y":7.8e5},{"p":"English","h":1,"s":100,"x":160,"y":5.6e5},{"p":"English","h":1,"s":100,"x":170,"y":3.2e5},{"p":"English","h":1,"s":100,"x":180,"y":1.4e5},{"p":"English","h":1,"s":100,"x":190,"y":2.8e5},{"p":"English","h":1,"s":100,"x":200,"y":5.4e4},
    {"p":"English","h":1,"s":10,"x":0,"y":1.7e7},{"p":"English","h":1,"s":10,"x":20,"y":1.0e7},{"p":"English","h":1,"s":10,"x":40,"y":5.6e6},{"p":"English","h":1,"s":10,"x":60,"y":3.2e6},{"p":"English","h":1,"s":10,"x":80,"y":1.4e6},{"p":"English","h":1,"s":10,"x":100,"y":6.3e5},{"p":"English","h":1,"s":10,"x":120,"y":3.2e5},{"p":"English","h":1,"s":10,"x":140,"y":2.0e5},{"p":"English","h":1,"s":10,"x":160,"y":1.0e5},{"p":"English","h":1,"s":10,"x":170,"y":7.1e4},{"p":"English","h":1,"s":10,"x":180,"y":8.9e4},{"p":"English","h":1,"s":10,"x":190,"y":4.0e4},{"p":"English","h":1,"s":10,"x":200,"y":2.4e4},
    {"p":"English","h":1,"s":1,"x":0,"y":1.8e6},{"p":"English","h":1,"s":1,"x":20,"y":1.1e6},{"p":"English","h":1,"s":1,"x":40,"y":7.1e5},{"p":"English","h":1,"s":1,"x":60,"y":4.0e5},{"p":"English","h":1,"s":1,"x":80,"y":2.0e5},{"p":"English","h":1,"s":1,"x":100,"y":1.0e5},{"p":"English","h":1,"s":1,"x":120,"y":5.0e4},{"p":"English","h":1,"s":1,"x":140,"y":2.8e4},{"p":"English","h":1,"s":1,"x":160,"y":1.6e4},{"p":"English","h":1,"s":1,"x":170,"y":1.3e4},{"p":"English","h":1,"s":1,"x":180,"y":1.0e4},{"p":"English","h":1,"s":1,"x":190,"y":7.9e3},{"p":"English","h":1,"s":1,"x":200,"y":5.6e3},
    {"p":"English","h":1,"s":0.1,"x":0,"y":1.6e5},{"p":"English","h":1,"s":0.1,"x":25,"y":7.9e4},{"p":"English","h":1,"s":0.1,"x":50,"y":4.4e4},{"p":"English","h":1,"s":0.1,"x":75,"y":2.2e4},{"p":"English","h":1,"s":0.1,"x":100,"y":1.3e4},{"p":"English","h":1,"s":0.1,"x":125,"y":7.9e3},{"p":"English","h":1,"s":0.1,"x":150,"y":5.6e3},{"p":"English","h":1,"s":0.1,"x":175,"y":5.0e3},{"p":"English","h":1,"s":0.1,"x":200,"y":4.6e3},
    {"p":"English","h":1,"s":0.01,"x":0,"y":2.1e4},{"p":"English","h":1,"s":0.01,"x":30,"y":1.3e4},{"p":"English","h":1,"s":0.01,"x":60,"y":8.9e3},{"p":"English","h":1,"s":0.01,"x":90,"y":6.6e3},{"p":"English","h":1,"s":0.01,"x":120,"y":5.2e3},{"p":"English","h":1,"s":0.01,"x":150,"y":4.6e3},{"p":"English","h":1,"s":0.01,"x":180,"y":4.3e3},{"p":"English","h":1,"s":0.01,"x":200,"y":4.1e3},
    {"p":"English","h":1,"s":0.001,"x":0,"y":6.2e3},{"p":"English","h":1,"s":0.001,"x":30,"y":4.4e3},{"p":"English","h":1,"s":0.001,"x":60,"y":3.3e3},{"p":"English","h":1,"s":0.001,"x":90,"y":2.8e3},{"p":"English","h":1,"s":0.001,"x":120,"y":2.6e3},{"p":"English","h":1,"s":0.001,"x":150,"y":2.5e3},{"p":"English","h":1,"s":0.001,"x":180,"y":2.1e3},{"p":"English","h":1,"s":0.001,"x":200,"y":1.8e3},

    {"p":"English","h":2,"s":100,"x":0,"y":4.0e8},{"p":"English","h":2,"s":100,"x":15,"y":2.8e8},{"p":"English","h":2,"s":100,"x":30,"y":1.8e8},{"p":"English","h":2,"s":100,"x":45,"y":1.0e8},{"p":"English","h":2,"s":100,"x":60,"y":6.3e7},{"p":"English","h":2,"s":100,"x":75,"y":3.5e7},{"p":"English","h":2,"s":100,"x":90,"y":2.0e7},{"p":"English","h":2,"s":100,"x":105,"y":1.1e7},{"p":"English","h":2,"s":100,"x":120,"y":6.3e6},{"p":"English","h":2,"s":100,"x":135,"y":3.2e6},{"p":"English","h":2,"s":100,"x":150,"y":1.8e6},{"p":"English","h":2,"s":100,"x":160,"y":1.1e6},{"p":"English","h":2,"s":100,"x":170,"y":5.0e5},{"p":"English","h":2,"s":100,"x":180,"y":7.1e5},{"p":"English","h":2,"s":100,"x":190,"y":2.5e5},{"p":"English","h":2,"s":100,"x":200,"y":2.1e5},
    {"p":"English","h":2,"s":10,"x":0,"y":4.0e7},{"p":"English","h":2,"s":10,"x":20,"y":2.2e7},{"p":"English","h":2,"s":10,"x":40,"y":1.1e7},{"p":"English","h":2,"s":10,"x":60,"y":5.6e6},{"p":"English","h":2,"s":10,"x":80,"y":2.5e6},{"p":"English","h":2,"s":10,"x":100,"y":1.1e6},{"p":"English","h":2,"s":10,"x":120,"y":5.6e5},{"p":"English","h":2,"s":10,"x":140,"y":2.8e5},{"p":"English","h":2,"s":10,"x":160,"y":1.4e5},{"p":"English","h":2,"s":10,"x":170,"y":8.9e4},{"p":"English","h":2,"s":10,"x":180,"y":1.1e5},{"p":"English","h":2,"s":10,"x":190,"y":4.0e4},{"p":"English","h":2,"s":10,"x":200,"y":2.3e4},
    {"p":"English","h":2,"s":1,"x":0,"y":4.0e6},{"p":"English","h":2,"s":1,"x":20,"y":2.2e6},{"p":"English","h":2,"s":1,"x":40,"y":1.1e6},{"p":"English","h":2,"s":1,"x":60,"y":5.6e5},{"p":"English","h":2,"s":1,"x":80,"y":2.5e5},{"p":"English","h":2,"s":1,"x":100,"y":1.1e5},{"p":"English","h":2,"s":1,"x":120,"y":5.0e4},{"p":"English","h":2,"s":1,"x":140,"y":2.5e4},{"p":"English","h":2,"s":1,"x":160,"y":1.3e4},{"p":"English","h":2,"s":1,"x":170,"y":8.9e3},{"p":"English","h":2,"s":1,"x":180,"y":7.9e3},{"p":"English","h":2,"s":1,"x":190,"y":6.0e3},{"p":"English","h":2,"s":1,"x":200,"y":5.2e3},
    {"p":"English","h":2,"s":0.1,"x":0,"y":3.7e5},{"p":"English","h":2,"s":0.1,"x":25,"y":1.8e5},{"p":"English","h":2,"s":0.1,"x":50,"y":8.9e4},{"p":"English","h":2,"s":0.1,"x":75,"y":4.8e4},{"p":"English","h":2,"s":0.1,"x":100,"y":2.6e4},{"p":"English","h":2,"s":0.1,"x":125,"y":1.4e4},{"p":"English","h":2,"s":0.1,"x":150,"y":7.9e3},{"p":"English","h":2,"s":0.1,"x":175,"y":5.6e3},{"p":"English","h":2,"s":0.1,"x":200,"y":4.7e3},
    {"p":"English","h":2,"s":0.01,"x":0,"y":3.9e4},{"p":"English","h":2,"s":0.01,"x":30,"y":2.0e4},{"p":"English","h":2,"s":0.01,"x":60,"y":1.2e4},{"p":"English","h":2,"s":0.01,"x":90,"y":8.3e3},{"p":"English","h":2,"s":0.01,"x":120,"y":6.8e3},{"p":"English","h":2,"s":0.01,"x":150,"y":5.6e3},{"p":"English","h":2,"s":0.01,"x":180,"y":5.0e3},{"p":"English","h":2,"s":0.01,"x":200,"y":4.7e3},
    {"p":"English","h":2,"s":0.001,"x":0,"y":8.3e3},{"p":"English","h":2,"s":0.001,"x":30,"y":6.0e3},{"p":"English","h":2,"s":0.001,"x":60,"y":4.8e3},{"p":"English","h":2,"s":0.001,"x":90,"y":4.3e3},{"p":"English","h":2,"s":0.001,"x":120,"y":3.5e3},{"p":"English","h":2,"s":0.001,"x":150,"y":2.8e3},{"p":"English","h":2,"s":0.001,"x":180,"y":2.1e3},{"p":"English","h":2,"s":0.001,"x":200,"y":1.8e3},

    {"p":"English","h":4,"s":100,"x":0,"y":6.8e8},{"p":"English","h":4,"s":100,"x":15,"y":4.5e8},{"p":"English","h":4,"s":100,"x":30,"y":3.2e8},{"p":"English","h":4,"s":100,"x":45,"y":1.8e8},{"p":"English","h":4,"s":100,"x":60,"y":1.1e8},{"p":"English","h":4,"s":100,"x":75,"y":6.3e7},{"p":"English","h":4,"s":100,"x":90,"y":3.2e7},{"p":"English","h":4,"s":100,"x":105,"y":1.1e7},{"p":"English","h":4,"s":100,"x":120,"y":7.9e6},{"p":"English","h":4,"s":100,"x":135,"y":4.5e6},{"p":"English","h":4,"s":100,"x":150,"y":2.5e6},{"p":"English","h":4,"s":100,"x":160,"y":1.6e6},{"p":"English","h":4,"s":100,"x":170,"y":1.0e6},{"p":"English","h":4,"s":100,"x":180,"y":1.4e6},{"p":"English","h":4,"s":100,"x":190,"y":6.3e5},{"p":"English","h":4,"s":100,"x":200,"y":4.4e5},
    {"p":"English","h":4,"s":10,"x":0,"y":7.9e7},{"p":"English","h":4,"s":10,"x":20,"y":4.0e7},{"p":"English","h":4,"s":10,"x":40,"y":2.2e7},{"p":"English","h":4,"s":10,"x":60,"y":1.1e7},{"p":"English","h":4,"s":10,"x":80,"y":4.5e6},{"p":"English","h":4,"s":10,"x":100,"y":1.6e6},{"p":"English","h":4,"s":10,"x":120,"y":8.9e5},{"p":"English","h":4,"s":10,"x":140,"y":5.0e5},{"p":"English","h":4,"s":10,"x":160,"y":2.8e5},{"p":"English","h":4,"s":10,"x":170,"y":2.0e5},{"p":"English","h":4,"s":10,"x":180,"y":2.5e5},{"p":"English","h":4,"s":10,"x":190,"y":1.4e5},{"p":"English","h":4,"s":10,"x":200,"y":1.1e5},
    {"p":"English","h":4,"s":1,"x":0,"y":6.3e6},{"p":"English","h":4,"s":1,"x":20,"y":3.2e6},{"p":"English","h":4,"s":1,"x":40,"y":1.6e6},{"p":"English","h":4,"s":1,"x":60,"y":7.9e5},{"p":"English","h":4,"s":1,"x":80,"y":4.0e5},{"p":"English","h":4,"s":1,"x":100,"y":2.0e5},{"p":"English","h":4,"s":1,"x":120,"y":1.0e5},{"p":"English","h":4,"s":1,"x":140,"y":5.0e4},{"p":"English","h":4,"s":1,"x":160,"y":2.5e4},{"p":"English","h":4,"s":1,"x":170,"y":2.0e4},{"p":"English","h":4,"s":1,"x":180,"y":1.6e4},{"p":"English","h":4,"s":1,"x":190,"y":1.1e4},{"p":"English","h":4,"s":1,"x":200,"y":9.8e3},
    {"p":"English","h":4,"s":0.1,"x":0,"y":7.1e5},{"p":"English","h":4,"s":0.1,"x":25,"y":3.2e5},{"p":"English","h":4,"s":0.1,"x":50,"y":1.4e5},{"p":"English","h":4,"s":0.1,"x":75,"y":6.3e4},{"p":"English","h":4,"s":0.1,"x":100,"y":3.2e4},{"p":"English","h":4,"s":0.1,"x":125,"y":1.6e4},{"p":"English","h":4,"s":0.1,"x":150,"y":8.9e3},{"p":"English","h":4,"s":0.1,"x":175,"y":5.6e3},{"p":"English","h":4,"s":0.1,"x":200,"y":4.7e3},
    {"p":"English","h":4,"s":0.01,"x":0,"y":6.9e4},{"p":"English","h":4,"s":0.01,"x":30,"y":2.8e4},{"p":"English","h":4,"s":0.01,"x":60,"y":1.4e4},{"p":"English","h":4,"s":0.01,"x":90,"y":9.5e3},{"p":"English","h":4,"s":0.01,"x":120,"y":7.1e3},{"p":"English","h":4,"s":0.01,"x":150,"y":5.6e3},{"p":"English","h":4,"s":0.01,"x":180,"y":4.6e3},{"p":"English","h":4,"s":0.01,"x":200,"y":4.2e3},
    {"p":"English","h":4,"s":0.001,"x":0,"y":1.4e4},{"p":"English","h":4,"s":0.001,"x":30,"y":7.6e3},{"p":"English","h":4,"s":0.001,"x":60,"y":5.0e3},{"p":"English","h":4,"s":0.001,"x":90,"y":4.0e3},{"p":"English","h":4,"s":0.001,"x":120,"y":3.3e3},{"p":"English","h":4,"s":0.001,"x":150,"y":2.8e3},{"p":"English","h":4,"s":0.001,"x":180,"y":2.2e3},{"p":"English","h":4,"s":0.001,"x":200,"y":2.0e3},

    {"p":"English","h":8,"s":100,"x":0,"y":1.4e9},{"p":"English","h":8,"s":100,"x":15,"y":8.9e8},{"p":"English","h":8,"s":100,"x":30,"y":5.6e8},{"p":"English","h":8,"s":100,"x":45,"y":3.2e8},{"p":"English","h":8,"s":100,"x":60,"y":2.0e8},{"p":"English","h":8,"s":100,"x":75,"y":1.1e8},{"p":"English","h":8,"s":100,"x":90,"y":6.3e7},{"p":"English","h":8,"s":100,"x":105,"y":2.8e7},{"p":"English","h":8,"s":100,"x":120,"y":2.0e7},{"p":"English","h":8,"s":100,"x":135,"y":1.1e7},{"p":"English","h":8,"s":100,"x":150,"y":6.3e6},{"p":"English","h":8,"s":100,"x":160,"y":4.0e6},{"p":"English","h":8,"s":100,"x":170,"y":2.5e6},{"p":"English","h":8,"s":100,"x":180,"y":3.5e6},{"p":"English","h":8,"s":100,"x":190,"y":1.4e6},{"p":"English","h":8,"s":100,"x":200,"y":1.0e6},
    {"p":"English","h":8,"s":10,"x":0,"y":1.3e8},{"p":"English","h":8,"s":10,"x":20,"y":6.3e7},{"p":"English","h":8,"s":10,"x":40,"y":3.5e7},{"p":"English","h":8,"s":10,"x":60,"y":1.8e7},{"p":"English","h":8,"s":10,"x":80,"y":8.9e6},{"p":"English","h":8,"s":10,"x":100,"y":4.0e6},{"p":"English","h":8,"s":10,"x":120,"y":2.0e6},{"p":"English","h":8,"s":10,"x":140,"y":1.0e6},{"p":"English","h":8,"s":10,"x":160,"y":5.0e5},{"p":"English","h":8,"s":10,"x":170,"y":3.2e5},{"p":"English","h":8,"s":10,"x":180,"y":4.0e5},{"p":"English","h":8,"s":10,"x":190,"y":1.6e5},{"p":"English","h":8,"s":10,"x":200,"y":1.1e5},
    {"p":"English","h":8,"s":1,"x":0,"y":1.3e7},{"p":"English","h":8,"s":1,"x":20,"y":6.3e6},{"p":"English","h":8,"s":1,"x":40,"y":3.2e6},{"p":"English","h":8,"s":1,"x":60,"y":1.6e6},{"p":"English","h":8,"s":1,"x":80,"y":8.9e5},{"p":"English","h":8,"s":1,"x":100,"y":5.0e5},{"p":"English","h":8,"s":1,"x":120,"y":2.2e5},{"p":"English","h":8,"s":1,"x":140,"y":1.0e5},{"p":"English","h":8,"s":1,"x":160,"y":5.0e4},{"p":"English","h":8,"s":1,"x":170,"y":3.2e4},{"p":"English","h":8,"s":1,"x":180,"y":2.5e4},{"p":"English","h":8,"s":1,"x":190,"y":1.4e4},{"p":"English","h":8,"s":1,"x":200,"y":1.1e4},
    {"p":"English","h":8,"s":0.1,"x":0,"y":1.5e6},{"p":"English","h":8,"s":0.1,"x":25,"y":6.3e5},{"p":"English","h":8,"s":0.1,"x":50,"y":2.8e5},{"p":"English","h":8,"s":0.1,"x":75,"y":1.3e5},{"p":"English","h":8,"s":0.1,"x":100,"y":6.3e4},{"p":"English","h":8,"s":0.1,"x":125,"y":3.2e4},{"p":"English","h":8,"s":0.1,"x":150,"y":1.6e4},{"p":"English","h":8,"s":0.1,"x":175,"y":8.9e3},{"p":"English","h":8,"s":0.1,"x":200,"y":6.3e3},
    {"p":"English","h":8,"s":0.01,"x":0,"y":1.3e5},{"p":"English","h":8,"s":0.01,"x":30,"y":5.0e4},{"p":"English","h":8,"s":0.01,"x":60,"y":2.2e4},{"p":"English","h":8,"s":0.01,"x":90,"y":1.3e4},{"p":"English","h":8,"s":0.01,"x":120,"y":8.9e3},{"p":"English","h":8,"s":0.01,"x":150,"y":6.3e3},{"p":"English","h":8,"s":0.01,"x":180,"y":4.8e3},{"p":"English","h":8,"s":0.01,"x":200,"y":4.2e3},
    {"p":"English","h":8,"s":0.001,"x":0,"y":1.7e4},{"p":"English","h":8,"s":0.001,"x":30,"y":8.9e3},{"p":"English","h":8,"s":0.001,"x":60,"y":5.6e3},{"p":"English","h":8,"s":0.001,"x":90,"y":4.2e3},{"p":"English","h":8,"s":0.001,"x":120,"y":3.5e3},{"p":"English","h":8,"s":0.001,"x":150,"y":3.0e3},{"p":"English","h":8,"s":0.001,"x":180,"y":2.4e3},{"p":"English","h":8,"s":0.001,"x":200,"y":2.0e3}
  ]},
  "columns": 4,
  "spacing": {"row": 31, "column": 30},
  "bounds": "flush",
  "resolve": {"scale": {"x": "independent", "y": "independent", "color": "shared"}, "legend": {"color": "shared"}},
  "concat": [
    {"width": 152, "height": 136, "transform": [{"filter": {"field": "p", "equal": "Dyck"}}, {"filter": {"field": "h", "equal": 1}}], "mark": "line",
     "encoding": {
       "x": {"field": "x", "type": "quantitative", "scale": {"domain": [-10, 211], "nice": false, "zero": false}, "axis": {"values": [0, 100, 200], "labels": false, "title": null}},
       "y": {"field": "y", "type": "quantitative", "scale": {"type": "log", "domain": [741, 1.35e10], "nice": false}, "axis": {"values": [10000, 1000000, 100000000, 10000000000], "labelExpr": "datum.value == 10000 ? '10⁴' : datum.value == 1000000 ? '10⁶' : datum.value == 100000000 ? '10⁸' : '10¹⁰'", "title": "Dyck", "titleY": 60}},
       "color": {"field": "s", "type": "nominal", "scale": {"domain": [0.001, 0.01, 0.1, 1, 10, 100], "range": ["#ff72ba", "#d78dce", "#a99adb", "#7ea9e7", "#4fbcf2", "#15c4fd"]}, "legend": {"title": null, "orient": "none", "legendX": 70, "legendY": -36, "direction": "horizontal"}}
     }},
    {"width": 152, "height": 136, "transform": [{"filter": {"field": "p", "equal": "Dyck"}}, {"filter": {"field": "h", "equal": 2}}], "mark": "line",
     "encoding": {
       "x": {"field": "x", "type": "quantitative", "scale": {"domain": [-10, 211], "nice": false, "zero": false}, "axis": {"values": [0, 100, 200], "labels": false, "title": null}},
       "y": {"field": "y", "type": "quantitative", "scale": {"type": "log", "domain": [741, 1.35e10], "nice": false}, "axis": {"values": [10000, 1000000, 100000000, 10000000000], "labels": false, "title": null}},
       "color": {"field": "s", "type": "nominal", "scale": {"domain": [0.001, 0.01, 0.1, 1, 10, 100], "range": ["#ff72ba", "#d78dce", "#a99adb", "#7ea9e7", "#4fbcf2", "#15c4fd"]}, "legend": {"title": null, "orient": "none", "legendX": 70, "legendY": -36, "direction": "horizontal"}}
     }},
    {"width": 152, "height": 136, "transform": [{"filter": {"field": "p", "equal": "Dyck"}}, {"filter": {"field": "h", "equal": 4}}], "mark": "line",
     "encoding": {
       "x": {"field": "x", "type": "quantitative", "scale": {"domain": [-10, 211], "nice": false, "zero": false}, "axis": {"values": [0, 100, 200], "labels": false, "title": null}},
       "y": {"field": "y", "type": "quantitative", "scale": {"type": "log", "domain": [741, 1.35e10], "nice": false}, "axis": {"values": [10000, 1000000, 100000000, 10000000000], "labels": false, "title": null}},
       "color": {"field": "s", "type": "nominal", "scale": {"domain": [0.001, 0.01, 0.1, 1, 10, 100], "range": ["#ff72ba", "#d78dce", "#a99adb", "#7ea9e7", "#4fbcf2", "#15c4fd"]}, "legend": {"title": null, "orient": "none", "legendX": 70, "legendY": -36, "direction": "horizontal"}}
     }},
    {"width": 152, "height": 136, "transform": [{"filter": {"field": "p", "equal": "Dyck"}}, {"filter": {"field": "h", "equal": 8}}], "mark": "line",
     "encoding": {
       "x": {"field": "x", "type": "quantitative", "scale": {"domain": [-10, 211], "nice": false, "zero": false}, "axis": {"values": [0, 100, 200], "labels": false, "title": null}},
       "y": {"field": "y", "type": "quantitative", "scale": {"type": "log", "domain": [741, 1.35e10], "nice": false}, "axis": {"values": [10000, 1000000, 100000000, 10000000000], "labels": false, "title": null}},
       "color": {"field": "s", "type": "nominal", "scale": {"domain": [0.001, 0.01, 0.1, 1, 10, 100], "range": ["#ff72ba", "#d78dce", "#a99adb", "#7ea9e7", "#4fbcf2", "#15c4fd"]}, "legend": {"title": null, "orient": "none", "legendX": 70, "legendY": -36, "direction": "horizontal"}}
     }},
    {"width": 152, "height": 136, "transform": [{"filter": {"field": "p", "equal": "Expr"}}, {"filter": {"field": "h", "equal": 1}}], "mark": "line",
     "encoding": {
       "x": {"field": "x", "type": "quantitative", "scale": {"domain": [-10, 211], "nice": false, "zero": false}, "axis": {"values": [0, 100, 200], "labels": false, "title": null}},
       "y": {"field": "y", "type": "quantitative", "scale": {"type": "log", "domain": [741, 1.35e10], "nice": false}, "axis": {"values": [10000, 1000000, 100000000, 10000000000], "labelExpr": "datum.value == 10000 ? '10⁴' : datum.value == 1000000 ? '10⁶' : datum.value == 100000000 ? '10⁸' : '10¹⁰'", "title": "Expr", "titleY": 61}},
       "color": {"field": "s", "type": "nominal", "scale": {"domain": [0.001, 0.01, 0.1, 1, 10, 100], "range": ["#ff72ba", "#d78dce", "#a99adb", "#7ea9e7", "#4fbcf2", "#15c4fd"]}, "legend": {"title": null, "orient": "none", "legendX": 70, "legendY": -36, "direction": "horizontal"}}
     }},
    {"width": 152, "height": 136, "transform": [{"filter": {"field": "p", "equal": "Expr"}}, {"filter": {"field": "h", "equal": 2}}], "mark": "line",
     "encoding": {
       "x": {"field": "x", "type": "quantitative", "scale": {"domain": [-10, 211], "nice": false, "zero": false}, "axis": {"values": [0, 100, 200], "labels": false, "title": null}},
       "y": {"field": "y", "type": "quantitative", "scale": {"type": "log", "domain": [741, 1.35e10], "nice": false}, "axis": {"values": [10000, 1000000, 100000000, 10000000000], "labels": false, "title": null}},
       "color": {"field": "s", "type": "nominal", "scale": {"domain": [0.001, 0.01, 0.1, 1, 10, 100], "range": ["#ff72ba", "#d78dce", "#a99adb", "#7ea9e7", "#4fbcf2", "#15c4fd"]}, "legend": {"title": null, "orient": "none", "legendX": 70, "legendY": -36, "direction": "horizontal"}}
     }},
    {"width": 152, "height": 136, "transform": [{"filter": {"field": "p", "equal": "Expr"}}, {"filter": {"field": "h", "equal": 4}}], "mark": "line",
     "encoding": {
       "x": {"field": "x", "type": "quantitative", "scale": {"domain": [-10, 211], "nice": false, "zero": false}, "axis": {"values": [0, 100, 200], "labels": false, "title": null}},
       "y": {"field": "y", "type": "quantitative", "scale": {"type": "log", "domain": [741, 1.35e10], "nice": false}, "axis": {"values": [10000, 1000000, 100000000, 10000000000], "labels": false, "title": null}},
       "color": {"field": "s", "type": "nominal", "scale": {"domain": [0.001, 0.01, 0.1, 1, 10, 100], "range": ["#ff72ba", "#d78dce", "#a99adb", "#7ea9e7", "#4fbcf2", "#15c4fd"]}, "legend": {"title": null, "orient": "none", "legendX": 70, "legendY": -36, "direction": "horizontal"}}
     }},
    {"width": 152, "height": 136, "transform": [{"filter": {"field": "p", "equal": "Expr"}}, {"filter": {"field": "h", "equal": 8}}], "mark": "line",
     "encoding": {
       "x": {"field": "x", "type": "quantitative", "scale": {"domain": [-10, 211], "nice": false, "zero": false}, "axis": {"values": [0, 100, 200], "labels": false, "title": null}},
       "y": {"field": "y", "type": "quantitative", "scale": {"type": "log", "domain": [741, 1.35e10], "nice": false}, "axis": {"values": [10000, 1000000, 100000000, 10000000000], "labels": false, "title": null}},
       "color": {"field": "s", "type": "nominal", "scale": {"domain": [0.001, 0.01, 0.1, 1, 10, 100], "range": ["#ff72ba", "#d78dce", "#a99adb", "#7ea9e7", "#4fbcf2", "#15c4fd"]}, "legend": {"title": null, "orient": "none", "legendX": 70, "legendY": -36, "direction": "horizontal"}}
     }},
    {"width": 152, "height": 136, "transform": [{"filter": {"field": "p", "equal": "English"}}, {"filter": {"field": "h", "equal": 1}}], "mark": "line",
     "encoding": {
       "x": {"field": "x", "type": "quantitative", "scale": {"domain": [-10, 211], "nice": false, "zero": false}, "axis": {"values": [0, 100, 200], "title": "h = 1"}},
       "y": {"field": "y", "type": "quantitative", "scale": {"type": "log", "domain": [741, 1.35e10], "nice": false}, "axis": {"values": [10000, 1000000, 100000000, 10000000000], "labelExpr": "datum.value == 10000 ? '10⁴' : datum.value == 1000000 ? '10⁶' : datum.value == 100000000 ? '10⁸' : '10¹⁰'", "title": "English", "titleY": 50}},
       "color": {"field": "s", "type": "nominal", "scale": {"domain": [0.001, 0.01, 0.1, 1, 10, 100], "range": ["#ff72ba", "#d78dce", "#a99adb", "#7ea9e7", "#4fbcf2", "#15c4fd"]}, "legend": {"title": null, "orient": "none", "legendX": 70, "legendY": -36, "direction": "horizontal"}}
     }},
    {"width": 152, "height": 136, "transform": [{"filter": {"field": "p", "equal": "English"}}, {"filter": {"field": "h", "equal": 2}}], "mark": "line",
     "encoding": {
       "x": {"field": "x", "type": "quantitative", "scale": {"domain": [-10, 211], "nice": false, "zero": false}, "axis": {"values": [0, 100, 200], "title": "h = 2"}},
       "y": {"field": "y", "type": "quantitative", "scale": {"type": "log", "domain": [741, 1.35e10], "nice": false}, "axis": {"values": [10000, 1000000, 100000000, 10000000000], "labels": false, "title": null}},
       "color": {"field": "s", "type": "nominal", "scale": {"domain": [0.001, 0.01, 0.1, 1, 10, 100], "range": ["#ff72ba", "#d78dce", "#a99adb", "#7ea9e7", "#4fbcf2", "#15c4fd"]}, "legend": {"title": null, "orient": "none", "legendX": 70, "legendY": -36, "direction": "horizontal"}}
     }},
    {"width": 152, "height": 136, "transform": [{"filter": {"field": "p", "equal": "English"}}, {"filter": {"field": "h", "equal": 4}}], "mark": "line",
     "encoding": {
       "x": {"field": "x", "type": "quantitative", "scale": {"domain": [-10, 211], "nice": false, "zero": false}, "axis": {"values": [0, 100, 200], "title": "h = 4"}},
       "y": {"field": "y", "type": "quantitative", "scale": {"type": "log", "domain": [741, 1.35e10], "nice": false}, "axis": {"values": [10000, 1000000, 100000000, 10000000000], "labels": false, "title": null}},
       "color": {"field": "s", "type": "nominal", "scale": {"domain": [0.001, 0.01, 0.1, 1, 10, 100], "range": ["#ff72ba", "#d78dce", "#a99adb", "#7ea9e7", "#4fbcf2", "#15c4fd"]}, "legend": {"title": null, "orient": "none", "legendX": 70, "legendY": -36, "direction": "horizontal"}}
     }},
    {"width": 152, "height": 136, "transform": [{"filter": {"field": "p", "equal": "English"}}, {"filter": {"field": "h", "equal": 8}}], "mark": "line",
     "encoding": {
       "x": {"field": "x", "type": "quantitative", "scale": {"domain": [-10, 211], "nice": false, "zero": false}, "axis": {"values": [0, 100, 200], "title": "h = 8"}},
       "y": {"field": "y", "type": "quantitative", "scale": {"type": "log", "domain": [741, 1.35e10], "nice": false}, "axis": {"values": [10000, 1000000, 100000000, 10000000000], "labels": false, "title": null}},
       "color": {"field": "s", "type": "nominal", "scale": {"domain": [0.001, 0.01, 0.1, 1, 10, 100], "range": ["#ff72ba", "#d78dce", "#a99adb", "#7ea9e7", "#4fbcf2", "#15c4fd"]}, "legend": {"title": null, "orient": "none", "legendX": 70, "legendY": -36, "direction": "horizontal"}}
     }}
  ],
  "config": {
    "font": "DejaVu Sans",
    "view": {"stroke": null},
    "line": {"strokeWidth": 2.4, "opacity": 0.7},
    "axis": {"grid": false, "domainColor": "#000", "domainWidth": 1, "tickColor": "#000", "tickWidth": 1, "tickSize": 3.5, "labelColor": "#000", "titleColor": "#000", "labelFont": "DejaVu Sans", "titleFont": "DejaVu Sans", "labelFontSize": 13, "titleFontSize": 16, "titleFontWeight": "normal"},
    "axisX": {"labelPadding": 6, "titlePadding": 5, "labelFlush": false},
    "axisY": {"labelPadding": 3, "titleAngle": 0, "titleAlign": "center", "titleBaseline": "middle", "titleX": -76, "labelFlush": false},
    "legend": {"symbolType": "stroke", "symbolSize": 1000, "symbolStrokeWidth": 3, "symbolOpacity": 0.7, "labelFont": "DejaVu Sans", "labelFontSize": 13.5, "labelColor": "#000", "labelOffset": 10, "columnPadding": 27, "padding": 0}
  }
}
